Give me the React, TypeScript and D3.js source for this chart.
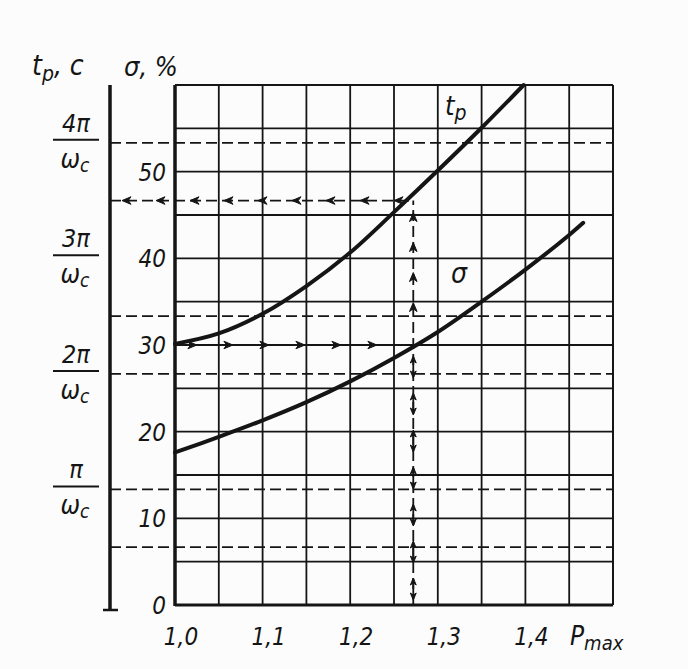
import React from 'react';
import * as d3 from 'd3';

// ---------- data ----------
const X_TICKS = [1.0, 1.1, 1.2, 1.3, 1.4];
const X_TICK_LABELS = ['1,0', '1,1', '1,2', '1,3', '1,4'];
const SIGMA_TICKS = [0, 10, 20, 30, 40, 50];
const TP_TICKS = [1, 2, 3, 4]; // multiples of π/ωc
const TP_TICK_LABELS = ['π', '2π', '3π', '4π'];
const TP_DASHED = [0.5, 1, 2, 2.5, 4];

// settling time t_p (in units of π/ωc) vs P_max
const TP_P = [1.0, 1.05, 1.1, 1.15, 1.2, 1.25, 1.3, 1.35, 1.398];
const TP_VALUES = [2.26, 2.35, 2.52, 2.76, 3.05, 3.4, 3.76, 4.13, 4.5];

// overshoot σ, % vs P_max
const SIGMA_P = [1.0, 1.05, 1.1, 1.15, 1.2, 1.25, 1.3, 1.35, 1.4, 1.45, 1.466];
const SIGMA_VALUES = [17.6, 19.4, 21.3, 23.4, 25.8, 28.5, 31.5, 35.0, 38.7, 42.7, 44.1];

// worked example
const P_OPERATING = 1.272;
const SIGMA_OPERATING = 30;
const TP_OPERATING = 3.5;

// ---------- layout ----------
const W = 688;
const H = 669;
const LEFT = 175;
const RIGHT = 613;
const TOP = 85;
const BOTTOM = 605;
const TP_AXIS_X = 110;
const INK = '#151515';
const FONT = '"DejaVu Sans Condensed", "DejaVu Sans", sans-serif';

const x = d3.scaleLinear().domain([1.0, 1.5]).range([LEFT, RIGHT]);
const yS = d3.scaleLinear().domain([0, 60]).range([BOTTOM, TOP]);
const yT = d3.scaleLinear().domain([0, 4.5]).range([BOTTOM, TOP]);

const tpLine = d3
  .line<number>()
  .x((_, i) => x(TP_P[i]))
  .y((d) => yT(d))
  .curve(d3.curveCatmullRom);
const sigmaLine = d3
  .line<number>()
  .x((_, i) => x(SIGMA_P[i]))
  .y((d) => yS(d))
  .curve(d3.curveCatmullRom);

function Arrow({ cx, cy, angle, len = 9 }: { cx: number; cy: number; angle: number; len?: number }) {
  const w = len * 0.42;
  return (
    <path
      d={`M0,0 L${-len},${-w} L${-len * 0.7},0 L${-len},${w} Z`}
      transform={`translate(${cx},${cy}) rotate(${angle})`}
      fill={INK}
      stroke={INK}
      strokeWidth={1}
    />
  );
}

export default function App() {
  const vGrid = d3.range(0, 11).map((i) => 1.0 + i * 0.05);
  const hGrid = d3.range(0, 13).map((i) => i * 5);

  const xOp = x(P_OPERATING);
  const ySig = yS(SIGMA_OPERATING);
  const yTp = yT(TP_OPERATING);

  // arrow positions derived from the scales
  const rightArrows = d3.range(x(1.025), xOp - 4, 36);
  const leftArrows = d3.range(TP_AXIS_X + 12, xOp - 6, 34);
  const upArrows = d3.range(yTp + 12, ySig - 20, 30);
  const dblArrows = d3.range(ySig + 22, BOTTOM - 8, 37);

  return (
    <svg
      width={W}
      height={H}
      style={{ position: 'fixed', left: 0, top: 0, background: '#fcfcfc' }}
      fontFamily={FONT}
    >
      <rect x={0} y={0} width={W} height={H} fill="#fcfcfc" />

      {/* grid */}
      {vGrid.map((p, i) => (
        <line key={'v' + i} x1={x(p)} x2={x(p)} y1={TOP} y2={BOTTOM} stroke={INK} strokeWidth={1.8} />
      ))}
      {hGrid.map((s, i) => (
        <line key={'h' + i} x1={LEFT} x2={RIGHT} y1={yS(s)} y2={yS(s)} stroke={INK} strokeWidth={1.8} />
      ))}

      {/* dashed t_p lines */}
      {TP_DASHED.map((t, i) => (
        <line
          key={'d' + i}
          x1={TP_AXIS_X}
          x2={RIGHT}
          y1={yT(t)}
          y2={yT(t)}
          stroke={INK}
          strokeWidth={1.8}
          strokeDasharray="11 5"
        />
      ))}

      {/* frame */}
      <line x1={LEFT} x2={LEFT} y1={TOP} y2={BOTTOM + 1} stroke={INK} strokeWidth={3.5} />
      <line x1={LEFT} x2={RIGHT} y1={BOTTOM} y2={BOTTOM} stroke={INK} strokeWidth={3} />
      <line x1={LEFT} x2={RIGHT} y1={TOP} y2={TOP} stroke={INK} strokeWidth={2} />
      <line x1={RIGHT} x2={RIGHT} y1={TOP} y2={BOTTOM} stroke={INK} strokeWidth={2} />

      {/* t_p axis */}
      <line x1={TP_AXIS_X} x2={TP_AXIS_X} y1={TOP} y2={BOTTOM + 5} stroke={INK} strokeWidth={3.5} />
      <line x1={TP_AXIS_X - 7} x2={TP_AXIS_X + 8} y1={BOTTOM + 5} y2={BOTTOM + 5} stroke={INK} strokeWidth={2.5} />

      {/* worked example lines */}
      <line x1={LEFT} x2={xOp} y1={ySig} y2={ySig} stroke={INK} strokeWidth={1.8} strokeDasharray="11 5" />
      <line x1={TP_AXIS_X} x2={xOp} y1={yTp} y2={yTp} stroke={INK} strokeWidth={1.8} strokeDasharray="11 5" />
      <line x1={xOp} x2={xOp} y1={BOTTOM} y2={yTp} stroke={INK} strokeWidth={1.8} strokeDasharray="11 5" />
      {rightArrows.map((ax, i) => (
        <Arrow key={'ra' + i} cx={ax} cy={ySig} angle={0} />
      ))}
      {leftArrows.map((ax, i) => (
        <Arrow key={'la' + i} cx={ax} cy={yTp} angle={180} />
      ))}
      {upArrows.map((ay, i) => (
        <Arrow key={'ua' + i} cx={xOp} cy={ay} angle={-90} />
      ))}
      {dblArrows.map((ay, i) => (
        <g key={'da' + i}>
          <line x1={xOp} x2={xOp} y1={ay - 10} y2={ay + 10} stroke={INK} strokeWidth={1.8} />
          <Arrow cx={xOp} cy={ay - 11} angle={-90} len={7} />
          <Arrow cx={xOp} cy={ay + 11} angle={90} len={7} />
        </g>
      ))}

      {/* curves */}
      <path d={tpLine(TP_VALUES) || ''} fill="none" stroke={INK} strokeWidth={4} strokeLinecap="round" />
      <path d={sigmaLine(SIGMA_VALUES) || ''} fill="none" stroke={INK} strokeWidth={4} strokeLinecap="round" />

      {/* curve labels */}
      <text x={445} y={115} fontSize={27} fontStyle="italic" fill={INK}>
        t<tspan fontSize={21} dy={5}>p</tspan>
      </text>
      <text x={451} y={283} fontSize={28} fontStyle="italic" fill={INK}>
        σ
      </text>

      {/* σ tick labels */}
      {SIGMA_TICKS.map((s, i) => (
        <text
          key={'st' + i}
          x={166}
          y={yS(s) + 9}
          textAnchor="end"
          fontSize={24}
          fontStyle="italic"
          fill={INK}
        >
          {s}
        </text>
      ))}

      {/* t_p tick labels as fractions */}
      {TP_TICKS.map((t, i) => {
        const bar = yT(t) - 3;
        return (
          <g key={'tt' + i}>
            <text x={76} y={bar - 8} textAnchor="middle" fontSize={25} fontStyle="italic" fill={INK}>
              {TP_TICK_LABELS[i]}
            </text>
            <line x1={53} x2={99} y1={bar} y2={bar} stroke={INK} strokeWidth={2} />
            <text x={75} y={bar + 28} textAnchor="middle" fontSize={26} fontStyle="italic" fill={INK}>
              ω<tspan fontSize={19} dy={4}>c</tspan>
            </text>
          </g>
        );
      })}

      {/* x tick labels */}
      {X_TICKS.map((p, i) => (
        <text
          key={'xt' + i}
          x={x(p) + 6}
          y={645}
          textAnchor="middle"
          fontSize={24}
          fontStyle="italic"
          fill={INK}
        >
          {X_TICK_LABELS[i]}
        </text>
      ))}
      <text x={570} y={645} fontSize={26} fontStyle="italic" fill={INK}>
        P<tspan fontSize={20} dy={5}>max</tspan>
      </text>

      {/* axis titles */}
      <text x={32} y={75} fontSize={28} fontStyle="italic" fill={INK}>
        t<tspan fontSize={21} dy={6}>p</tspan>
        <tspan dy={-6}>, c</tspan>
      </text>
      <text x={124} y={76} fontSize={27} fontStyle="italic" fill={INK}>
        σ, %
      </text>
    </svg>
  );
}
